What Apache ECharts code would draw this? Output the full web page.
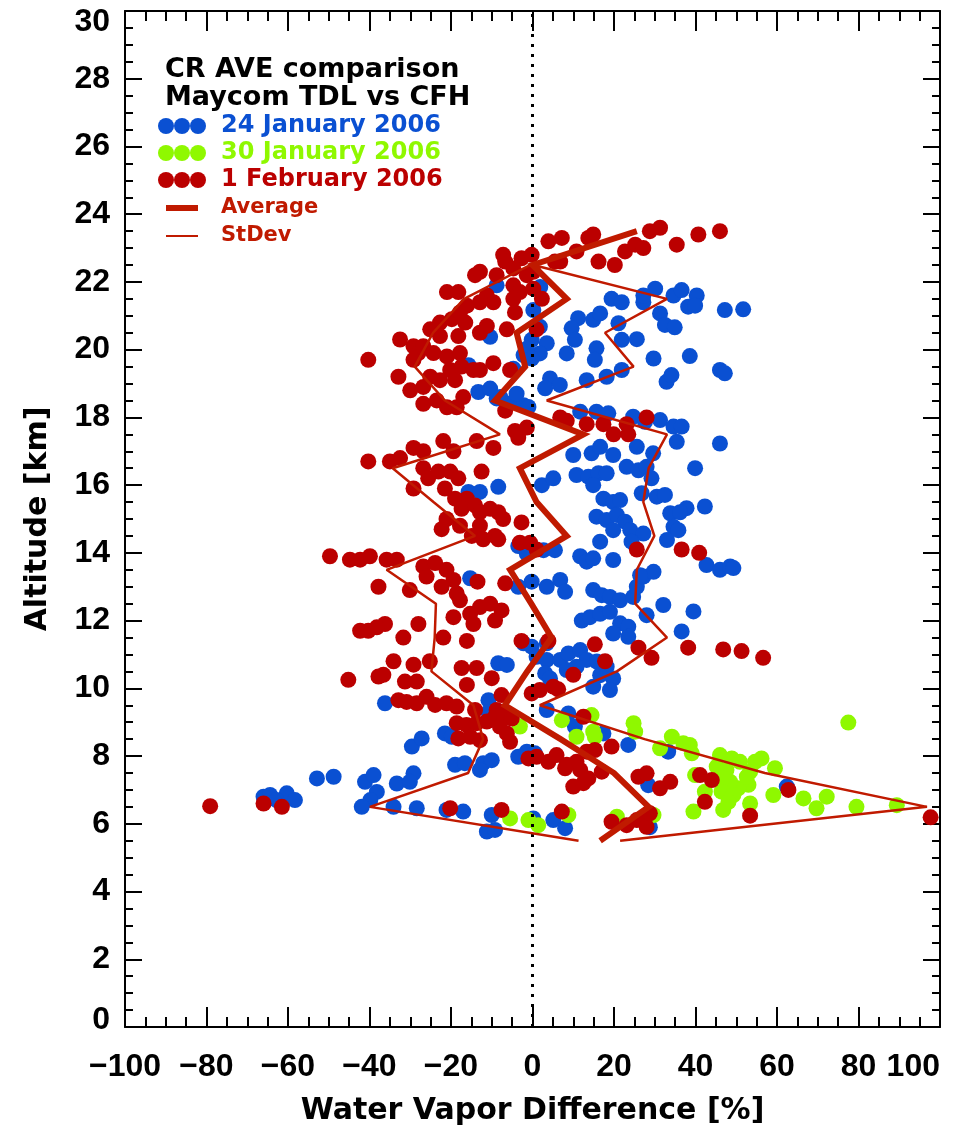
<!DOCTYPE html>
<html>
<head>
<meta charset="utf-8">
<script src="https://cdn.jsdelivr.net/npm/echarts/dist/echarts.min.js"></script>
<style>
  html, body { margin: 0; padding: 0; background: #fff; }
  #chart { width: 974px; height: 1126px; }
</style>
</head>
<body>
<div id="chart"></div>
<script>
// Axis ticks
const xTicks = [-100, -80, -60, -40, -20, 0, 20, 40, 60, 80, 100];
const yTicks = [0, 2, 4, 6, 8, 10, 12, 14, 16, 18, 20, 22, 24, 26, 28, 30];

// Difference [%] vs altitude [km], one list of [diff, alt] pairs per flight
const jan24 = [
  [30.1,21.8],[34.6,21.6],[36.6,21.76],[40.3,21.6],[19.4,21.5],[21.9,21.4],[27.2,21.4],[27.2,21.6],[31.3,21.07],[32.5,20.73],
  [34.9,20.66],[38.2,21.27],[39.9,21.3],[47.2,21.17],[51.7,21.19],[11.2,20.93],[9.6,20.63],[10.4,20.29],[14.9,20.88],[16.6,21.07],
  [21.1,20.78],[8.4,19.89],[15.7,20.04],[15.3,19.7],[21.9,20.29],[25.6,20.31],[29.7,19.74],[38.6,19.81],[18.2,19.2],[21.9,19.4],
  [13.3,19.1],[4.3,19.15],[3.1,18.86],[6.7,18.96],[32.9,19.05],[34.1,19.25],[46.0,19.4],[47.2,19.3],
  [0.2,21.17],[1.8,20.68],[3.5,20.19],[1.8,19.89],[-0.2,20.29],[1.9,21.85],
  [11.7,18.17],[15.7,18.17],[18.6,18.12],[24.7,18.02],[27.6,17.87],[31.3,17.92],[34.6,17.73],[36.6,17.73],
  [10.0,16.89],[14.5,16.94],[16.6,17.13],[19.8,16.89],[25.6,17.13],[29.6,16.94],[35.4,17.28],[46.0,17.23],
  [-8.8,21.9],[-10.4,20.38],[-13.3,18.75],[-8.8,18.56],[-10.4,18.85],[-15.7,19.54],[-1.4,20.03],[-2.2,19.84],[-4.7,19.44],
  [-4.7,18.46],[-2.2,18.36],[-1.0,18.31],[-0.2,19.74],[-7.9,18.6],[-3.9,18.7],
  [2.3,16.0],[5.1,16.2],[10.8,16.3],[13.7,16.25],[16.2,16.35],[14.9,16.0],[18.2,16.35],[23.1,16.54],[26.0,16.44],[28.0,16.54],
  [29.2,16.2],[26.8,15.76],[30.5,15.66],[32.5,15.71],[33.8,15.17],[34.6,14.77],[33.0,14.38],[35.8,14.67],
  [-15.7,15.8],[-12.9,15.8],[-8.4,15.95],
  [17.4,15.6],[19.8,15.5],[21.5,15.56],[15.7,15.07],[18.2,14.97],[20.7,15.12],[22.7,14.92],[19.8,14.67],[24.0,14.67],[27.2,14.57],
  [16.6,14.33],[24.3,14.33],[11.7,13.9],[13.3,13.74],[19.8,13.79],[14.9,13.84],[2.7,14.08],[5.5,14.08],[-1.4,13.98],
  [-0.2,13.15],[3.5,13.0],[6.8,13.2],[8.0,12.85],[-3.5,13.0],
  [14.9,12.9],[17.0,12.75],[19.0,12.7],[21.5,12.6],[24.7,12.7],[25.6,13.0],[27.2,13.3],[29.7,13.44],[26.4,13.34],[32.1,12.46],
  [12.1,12.0],[14.1,12.1],[16.6,12.2],[19.0,12.26],[21.5,11.92],[23.5,11.82],[19.8,11.62],[23.5,11.52],[28.0,12.16],
  [-2.2,11.33],[-0.2,11.23],[3.5,11.33],[1.0,10.93],[3.5,10.84],
  [6.8,10.84],[8.8,11.03],[11.7,11.13],[13.3,10.84],[8.4,10.54],[10.8,10.64],[15.8,10.79],[18.2,10.64],[16.6,10.39],[19.8,10.29],
  [14.9,10.05],[19.0,9.95],[-8.4,10.74],[-6.3,10.69],[3.1,10.44],[4.3,10.29],[-10.8,9.65],[-15.3,13.25],[-3.5,14.2],
  [39.9,16.5],[42.3,15.37],[37.8,15.32],[36.2,15.2],[42.7,13.64],[46.0,13.5],[48.5,13.6],[49.3,13.55],[36.6,11.68],[39.5,12.27],
  [-36.2,9.56],[-21.5,8.67],[-19.8,8.57],[-29.6,8.28],[-27.2,8.52],[-19.0,7.74],[-16.6,7.79],[-12.1,7.79],[-10.0,7.88],[-12.9,7.59],
  [-3.5,7.98],[-1.4,8.13],[0.6,8.08],[-33.3,7.19],[-29.2,7.49],[-30.1,7.24],
  [-34.1,6.5],[-28.4,6.46],[-21.1,6.41],[-17.0,6.36],[-10.0,6.26],[-11.2,5.77],[-9.2,5.82],[0.2,6.16],[5.1,6.11],[8.0,5.87],[28.8,5.9],
  [3.5,9.36],[8.8,9.26],[10.4,8.87],[17.4,8.67],[23.5,8.33],[33.3,8.13],[28.4,7.14],[-10.8,9.3],
  [-66.0,6.8],[-64.4,6.85],[-60.3,6.9],[-58.3,6.7],[-62.8,6.7],[-52.9,7.34],[-48.8,7.39],[-41.1,7.24],[-39.0,7.44],[-38.2,6.94],
  [-39.8,6.7],[-41.9,6.5],[62.4,7.1]
];

const jan30 = [
  [-3.1,8.87],[7.2,9.06],[14.5,9.21],[14.9,8.72],[10.8,8.57],[15.3,8.57],[24.8,8.97],[25.2,8.72],[31.3,8.23],[34.2,8.57],
  [-5.5,6.16],[-1.0,6.11],[1.4,5.96],[8.8,6.26],[20.7,6.21],[29.7,6.26],
  [77.5,8.99],[37.0,8.38],[38.6,8.33],[39.1,8.08],[46.0,8.03],[48.9,7.93],[50.9,7.83],[45.2,7.69],[47.6,7.59],[54.6,7.83],
  [56.2,7.93],[59.5,7.64],[53.4,7.54],[53.0,7.15],[50.5,7.05],[48.5,7.24],[46.8,7.34],[46.4,6.95],[49.3,6.85],[48.1,6.65],
  [46.8,6.41],[53.4,6.6],[39.5,6.36],[42.3,6.95],[59.1,6.85],[66.5,6.75],[72.2,6.8],[69.7,6.46],[79.5,6.5],[89.4,6.55],
  [39.9,7.44],[52.6,7.39]
];

const feb01 = [
  [3.9,23.2],[7.2,23.3],[13.7,23.3],[14.9,23.4],[10.8,22.9],[16.2,22.6],[20.2,22.5],[22.7,22.9],[25.2,23.1],[27.2,23.0],
  [28.8,23.5],[31.3,23.6],[35.4,23.1],[40.7,23.4],[46.0,23.5],
  [-7.2,22.8],[-6.7,22.6],[-2.7,22.7],[-0.2,22.8],[5.5,22.6],[6.8,22.6],[-14.1,22.2],[-12.9,22.3],[-8.8,22.2],[-4.7,22.4],
  [-1.4,22.2],[0.2,22.3],
  [-21.0,21.7],[-18.2,21.7],[-11.2,21.6],[-9.6,21.4],[-4.7,21.9],[-3.1,21.7],[0.2,21.8],[2.3,21.5],[-4.7,21.5],[-4.3,21.1],
  [-12.9,21.4],[-16.1,21.3],
  [-22.7,20.8],[-19.8,20.9],[-16.5,20.8],[-12.9,20.5],[-11.2,20.7],[-6.3,20.6],[1.0,20.6],[-17.8,21.1],[-25.1,20.6],
  [-32.5,20.3],[-29.2,20.1],[-28.0,19.9],[-26.8,20.1],[-22.7,20.4],[-18.2,20.4],[-24.3,19.9],[-21.0,19.8],[-17.8,19.9],[-17.4,19.5],
  [-20.2,19.4],[-14.5,19.4],[-12.9,19.4],[-9.6,19.6],[-5.5,19.4],[-29.2,19.7],[-40.3,19.7],
  [-32.9,19.2],[-30.0,18.8],[-26.8,18.9],[-25.1,19.2],[-22.7,19.1],[-19.0,19.1],[-26.8,18.4],[-23.5,18.5],[-21.0,18.3],[-18.6,18.3],
  [-17.0,18.6],[-6.7,18.2],
  [-4.3,17.6],[-3.5,17.4],[-1.4,17.7],[6.8,18.0],[8.4,17.9],[13.3,17.8],[17.4,17.8],[19.9,17.5],[23.1,17.8],[23.5,17.5],[28.0,18.0],
  [-21.9,17.3],[-19.4,17.0],[-13.7,17.3],[-9.6,17.1],[-29.2,17.1],[-26.8,17.0],[-35.0,16.7],[-32.5,16.8],[-40.3,16.7],
  [-29.2,15.9],[-26.8,16.5],[-25.6,16.2],[-23.1,16.4],[-20.2,16.4],[-18.2,16.2],[-21.5,15.9],[-19.0,15.6],[-16.1,15.6],[-17.4,15.3],
  [-14.1,15.4],[-12.9,15.2],[-10.4,15.3],[-8.4,15.2],[-7.2,15.0],[-12.9,14.8],[-17.8,14.8],[-22.3,14.7],[-14.9,14.5],[-12.1,14.4],
  [-9.2,14.5],[-8.4,14.4],[-21.1,15.0],[-12.5,16.4],[-2.7,14.9],[-3.1,14.3],[-0.6,14.3],[1.0,14.1],
  [-35.8,13.8],[-33.3,13.8],[-26.8,13.6],[-23.9,13.7],[-21.1,13.5],[-26.0,13.3],[-19.4,13.2],[-22.3,13.0],[-30.1,12.9],[-18.6,12.8],
  [-17.8,12.6],[-12.9,12.4],[-10.4,12.5],[-7.6,12.3],[-15.3,12.2],[-19.4,12.1],[-14.5,11.9],[-9.2,12.0],[-13.5,13.15],[-6.7,13.1],
  [-36.2,11.9],[-28.0,11.9],[-31.7,11.5],[-21.9,11.5],[-16.1,11.4],[-34.1,10.8],[-29.2,10.7],[-25.2,10.8],[-17.4,10.6],[-13.7,10.6],
  [-10.0,10.3],[-31.3,10.2],[-28.4,10.2],[-16.1,10.1],[-36.6,10.4],[-7.6,9.8],
  [-2.7,11.4],[3.9,11.4],[1.8,9.95],[5.1,10.05],[-0.2,9.85],[6.3,9.97],[10.0,10.4],[15.3,11.3],[17.8,10.8],[26.0,11.2],
  [29.2,10.9],[25.6,14.1],
  [-49.7,13.9],[-44.8,13.8],[-42.3,13.8],[-39.9,13.9],[-37.8,13.0],[-42.3,11.7],[-40.3,11.7],[-38.2,11.8],[-45.2,10.25],[-37.8,10.35],
  [36.6,14.1],[40.9,14.0],[38.2,11.2],[46.8,11.15],[51.3,11.1],[56.6,10.9],
  [-32.9,9.65],[-30.9,9.6],[-28.4,9.56],[-26.0,9.75],[-23.9,9.51],[-21.1,9.56],[-18.6,9.46],[-14.1,9.36],[-8.8,9.36],
  [-18.6,8.97],[-16.2,8.92],[-13.7,8.97],[-11.2,9.02],[-9.2,9.16],[-7.2,9.26],[-5.1,9.11],[-6.3,8.67],[-5.5,8.42],[-18.2,8.52],
  [-15.3,8.57],[-12.9,8.47],[-8.0,8.87],
  [-1.0,7.93],[1.0,7.98],[3.9,7.83],[5.9,8.03],[8.4,7.74],[10.8,7.83],[11.7,7.59],[13.3,8.13],[15.3,8.18],[19.4,8.28],
  [17.0,7.54],[12.5,9.16],[10.0,7.1],[12.5,7.2],[13.7,7.34],[26.0,7.39],[28.0,7.49],[31.3,7.05],[33.8,7.24],[8.0,7.64],
  [7.2,6.36],[-20.2,6.46],[-7.6,6.41],[19.4,6.06],[23.1,5.96],[25.6,6.11],[27.2,6.16],[28.0,5.91],[28.8,6.31],
  [-79.1,6.52],[-66.0,6.6],[-61.5,6.5],
  [41.1,7.44],[44.0,7.29],[42.3,6.65],[53.4,6.24],[62.8,7.0],[97.7,6.19]
];

// Layer statistics: mean difference and the mean +/- one standard deviation
const avgAltitude = [23.5, 22.5, 21.5, 20.5, 19.5, 18.5, 17.5, 16.5, 15.5, 14.5, 13.5, 12.5, 11.5, 10.5, 9.5, 8.5, 7.5, 6.5, 5.5];
const avgDiff     = [25.6, 0.0, 8.4, -3.9, -1.8, -9.2, 12.5, -3.1, 1.0, 8.4, -5.5, -0.3, 4.7, -1.3, -6.8, 6.9, 20.0, 28.5, 16.6];
const sdAltitude  = [22.5, 21.5, 20.5, 19.5, 18.5, 17.5, 16.5, 15.5, 14.5, 13.5, 12.5, 11.5, 10.5, 9.5, 8.5, 7.5, 6.5, 5.5];
const sdLow       = [-0.6, -16.8, -24.4, -28.9, -21.5, -8.0, -34.3, -24.3, -14.1, -35.8, -23.7, -24.0, -24.8, -14.5, -12.1, -15.8, -39.9, 11.3];
const sdHigh      = [0.2, 33.0, 17.8, 24.8, 3.5, 33.0, 28.5, 27.2, 29.9, 25.6, 25.2, 33.0, 20.7, 1.8, 27.5, 57.0, 96.8, 21.5];

const BLUE = '#0a50d2';
const GREEN = '#8ff800';
const RED = '#bb0000';
const LINE_RED = '#c01a00';
const TEXT_FONT = 'DejaVu Sans';
const TICK_FONT = 'Liberation Sans';

const pair = (xs, ys) => xs.map((x, i) => [x, ys[i]]);

const chart = echarts.init(document.getElementById('chart'), null, { renderer: 'canvas' });

const xTickStyle = { show: true, inside: true, length: 20, lineStyle: { color: '#000', width: 2 } };
const xMinor = { show: true, splitNumber: 4, length: 10, lineStyle: { color: '#000', width: 2 } };
const yTickStyle = { show: true, inside: true, length: 17, lineStyle: { color: '#000', width: 2 } };
const yMinor = { show: true, splitNumber: 4, length: 8, lineStyle: { color: '#000', width: 2 } };
const axisLine = { show: true, onZero: false, lineStyle: { color: '#000', width: 2 } };
const minusFmt = v => (v < 0 ? '\u2212' + Math.abs(v) : String(v));

const xMin = xTicks[0], xMax = xTicks[xTicks.length - 1], xStep = xTicks[1] - xTicks[0];
const yMin = yTicks[0], yMax = yTicks[yTicks.length - 1], yStep = yTicks[1] - yTicks[0];

// End labels of the altitude axis sit inside the frame
const yLabelFmt = v => (v === yMin ? '{lo|' + v + '}' : v === yMax ? '{hi|' + v + '}' : String(v));

const scatter = (name, data, color) => ({
  name, type: 'scatter', data, symbol: 'circle', symbolSize: 16,
  itemStyle: { color, opacity: 1 }, silent: true
});

const tickLabel = { color: '#000', fontFamily: TICK_FONT, fontWeight: 'bold', fontSize: 32 };

const option = {
  animation: false,
  backgroundColor: '#fff',
  grid: { left: 125, right: 34, top: 11, bottom: 99, containLabel: false, outerBoundsMode: 'none' },
  xAxis: [
    {
      type: 'value', min: xMin, max: xMax, interval: xStep, position: 'bottom',
      axisLine, axisTick: xTickStyle, minorTick: xMinor, splitLine: { show: false },
      axisLabel: Object.assign({}, tickLabel, { margin: 24, formatter: minusFmt, alignMaxLabel: 'right' }),
      name: 'Water Vapor Difference [%]', nameLocation: 'middle', nameGap: 69,
      nameTextStyle: { color: '#000', fontFamily: TEXT_FONT, fontWeight: 'bold', fontSize: 30 }
    },
    {
      type: 'value', min: xMin, max: xMax, interval: xStep, position: 'top',
      axisLine, axisTick: xTickStyle, minorTick: xMinor, splitLine: { show: false },
      axisLabel: { show: false }
    }
  ],
  yAxis: [
    {
      type: 'value', min: yMin, max: yMax, interval: yStep, position: 'left',
      axisLine, axisTick: yTickStyle, minorTick: yMinor, splitLine: { show: false },
      axisLabel: Object.assign({}, tickLabel, {
        margin: 15, formatter: yLabelFmt,
        rich: {
          lo: { fontFamily: TICK_FONT, fontWeight: 'bold', fontSize: 32, color: '#000', padding: [0, 0, 14, 0] },
          hi: { fontFamily: TICK_FONT, fontWeight: 'bold', fontSize: 32, color: '#000', padding: [22, 0, 0, 0] }
        }
      }),
      name: 'Altitude [km]', nameLocation: 'middle', nameGap: 72, nameRotate: 90,
      nameTextStyle: { color: '#000', fontFamily: TEXT_FONT, fontWeight: 'bold', fontSize: 30 }
    },
    {
      type: 'value', min: yMin, max: yMax, interval: yStep, position: 'right',
      axisLine, axisTick: yTickStyle, minorTick: yMinor, splitLine: { show: false },
      axisLabel: { show: false }
    }
  ],
  series: [
    {
      name: 'zero', type: 'line', data: [[0, yMin], [0, yMax]], symbol: 'none', silent: true,
      lineStyle: { color: '#000', width: 3, type: [3, 7] }
    },
    scatter('24 January 2006', jan24, BLUE),
    scatter('30 January 2006', jan30, GREEN),
    scatter('1 February 2006', feb01, RED),
    {
      name: 'StDev low', type: 'line', data: pair(sdLow, sdAltitude), symbol: 'none', silent: true,
      lineStyle: { color: LINE_RED, width: 2.5 }
    },
    {
      name: 'StDev high', type: 'line', data: pair(sdHigh, sdAltitude), symbol: 'none', silent: true,
      lineStyle: { color: LINE_RED, width: 2.5 }
    },
    {
      name: 'Average', type: 'line', data: pair(avgDiff, avgAltitude), symbol: 'none', silent: true,
      lineStyle: { color: LINE_RED, width: 6, join: 'miter' }
    }
  ],
  graphic: [
    { type: 'text', x: 165, y: 70, style: { text: 'CR AVE comparison', fill: '#000', font: 'bold 27px "DejaVu Sans"', verticalAlign: 'middle' } },
    { type: 'text', x: 165, y: 98, style: { text: 'Maycom TDL vs CFH', fill: '#000', font: 'bold 27px "DejaVu Sans"', verticalAlign: 'middle' } },

    { type: 'circle', shape: { cx: 166, cy: 126, r: 8 }, style: { fill: BLUE } },
    { type: 'circle', shape: { cx: 182, cy: 126, r: 8 }, style: { fill: BLUE } },
    { type: 'circle', shape: { cx: 198, cy: 126, r: 8 }, style: { fill: BLUE } },
    { type: 'text', x: 221, y: 126, style: { text: '24 January 2006', fill: BLUE, font: 'bold 24px "DejaVu Sans"', verticalAlign: 'middle' } },

    { type: 'circle', shape: { cx: 166, cy: 153, r: 8 }, style: { fill: GREEN } },
    { type: 'circle', shape: { cx: 182, cy: 153, r: 8 }, style: { fill: GREEN } },
    { type: 'circle', shape: { cx: 198, cy: 153, r: 8 }, style: { fill: GREEN } },
    { type: 'text', x: 221, y: 153, style: { text: '30 January 2006', fill: GREEN, font: 'bold 24px "DejaVu Sans"', verticalAlign: 'middle' } },

    { type: 'circle', shape: { cx: 166, cy: 180, r: 8 }, style: { fill: RED } },
    { type: 'circle', shape: { cx: 182, cy: 180, r: 8 }, style: { fill: RED } },
    { type: 'circle', shape: { cx: 198, cy: 180, r: 8 }, style: { fill: RED } },
    { type: 'text', x: 221, y: 180, style: { text: '1 February 2006', fill: RED, font: 'bold 24px "DejaVu Sans"', verticalAlign: 'middle' } },

    { type: 'line', shape: { x1: 166, y1: 208, x2: 198, y2: 208 }, style: { stroke: LINE_RED, lineWidth: 6 } },
    { type: 'text', x: 221, y: 208, style: { text: 'Average', fill: LINE_RED, font: 'bold 21px "DejaVu Sans"', verticalAlign: 'middle' } },
    { type: 'line', shape: { x1: 166, y1: 236, x2: 198, y2: 236 }, style: { stroke: LINE_RED, lineWidth: 2 } },
    { type: 'text', x: 221, y: 236, style: { text: 'StDev', fill: LINE_RED, font: 'bold 21px "DejaVu Sans"', verticalAlign: 'middle' } }
  ]
};

chart.setOption(option);
</script>
</body>
</html>
